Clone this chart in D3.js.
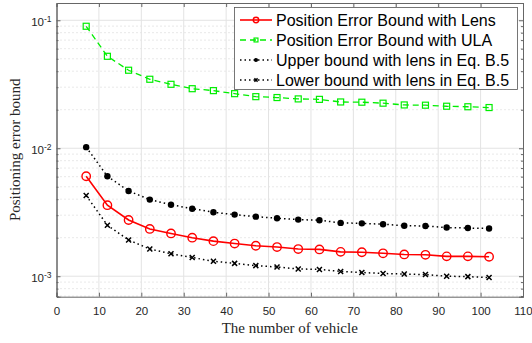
<!DOCTYPE html>
<html>
<head>
<meta charset="utf-8">
<script src="https://cdn.jsdelivr.net/npm/d3@7"></script>
<style>
  body { margin: 0; background: #fff; }
  svg { display: block; }
</style>
</head>
<body>
<svg id="chart" width="532" height="343"></svg>
<script>
var vehicles = [7, 12, 17, 22, 27, 32, 37, 42, 47, 52, 57, 62, 67, 72, 77, 82, 87, 92, 97, 102]
var lensBound = [0.00604, 0.00359, 0.00275, 0.00234, 0.00216, 0.00200, 0.00188, 0.00180, 0.00173, 0.00169,
    0.00163, 0.00162, 0.00155, 0.00154, 0.00151, 0.00148, 0.00147, 0.00143, 0.00143, 0.00142]
var ulaBound = [0.0898, 0.0523, 0.0407, 0.0346, 0.0316, 0.0292, 0.0282, 0.0267, 0.0253, 0.0249,
    0.0243, 0.0241, 0.0230, 0.0229, 0.0225, 0.0218, 0.0217, 0.0213, 0.0211, 0.0208]
var upperBound = [0.0102, 0.00604, 0.00464, 0.00397, 0.00362, 0.00337, 0.00316, 0.00303, 0.00292, 0.00284,
    0.00277, 0.00274, 0.00261, 0.00259, 0.00255, 0.00248, 0.00247, 0.00240, 0.00238, 0.00236]
var lowerBound = [0.00427, 0.00250, 0.00192, 0.00163, 0.00150, 0.00140, 0.00131, 0.00126, 0.00121, 0.00118,
    0.00114, 0.00113, 0.00109, 0.00107, 0.00105, 0.00104, 0.00103, 0.00100, 0.000993, 0.000976]
var xTicks = [0, 10, 20, 30, 40, 50, 60, 70, 80, 90, 100, 110]
var yDecades = [-3, -2, -1]
var seriesNames = ["Position Error Bound with Lens", "Position Error Bound with ULA",
    "Upper bound with lens in Eq. B.5", "Lower bound with lens in Eq. B.5"]

var svg = d3.select("#chart")
var plot = { left: 56.5, right: 523, top: 3, bottom: 296.7 }

var xScale = d3.scaleLinear().domain([0, 110]).range([plot.left, plot.right])
var yScale = d3.scaleLog().domain([Math.pow(10, -3.16), Math.pow(10, -0.865)]).range([plot.bottom, plot.top])

svg.append("rect")
    .attr("x", plot.left).attr("y", plot.top)
    .attr("width", plot.right - plot.left).attr("height", plot.bottom - plot.top)
    .attr("fill", "#fff")

// minor y grid (dotted)
var minorVals = []
yDecades.concat([-4]).forEach(function (e) {
    for (var k = 2; k <= 9; k++) {
        var v = k * Math.pow(10, e)
        if (v > yScale.domain()[0] && v < yScale.domain()[1]) minorVals.push(v)
    }
})
svg.append("g").selectAll("line").data(minorVals).enter().append("line")
    .attr("x1", plot.left).attr("x2", plot.right)
    .attr("y1", d => yScale(d)).attr("y2", d => yScale(d))
    .attr("stroke", "#c8c8c8").attr("stroke-width", 0.8).attr("stroke-dasharray", "1,3")

// major grids
svg.append("g").selectAll("line").data(xTicks.slice(1, -1)).enter().append("line")
    .attr("x1", d => xScale(d)).attr("x2", d => xScale(d))
    .attr("y1", plot.top).attr("y2", plot.bottom)
    .attr("stroke", "#e3e3e3").attr("stroke-width", 1)
svg.append("g").selectAll("line").data(yDecades).enter().append("line")
    .attr("x1", plot.left).attr("x2", plot.right)
    .attr("y1", d => yScale(Math.pow(10, d))).attr("y2", d => yScale(Math.pow(10, d)))
    .attr("stroke", "#e3e3e3").attr("stroke-width", 1)

// axes
var xAxis = d3.axisBottom(xScale).tickValues(xTicks).tickSize(-4).tickPadding(10)
var gx = svg.append("g").attr("transform", `translate(0,${plot.bottom})`).call(xAxis)
var gxTop = svg.append("g").attr("transform", `translate(0,${plot.top})`)
    .call(d3.axisTop(xScale).tickValues(xTicks).tickSize(-4).tickFormat(""))

var yAxis = d3.axisLeft(yScale).tickValues(yDecades.map(e => Math.pow(10, e))).tickSize(-4).tickPadding(6).tickFormat("")
var gy = svg.append("g").attr("transform", `translate(${plot.left},0)`).call(yAxis)
var gyMinor = svg.append("g").attr("transform", `translate(${plot.left},0)`)
    .call(d3.axisLeft(yScale).tickValues(minorVals).tickSize(-2).tickFormat(""))
var gyR = svg.append("g").attr("transform", `translate(${plot.right},0)`)
    .call(d3.axisRight(yScale).tickValues(yDecades.map(e => Math.pow(10, e))).tickSize(-4).tickFormat(""))
var gyRMinor = svg.append("g").attr("transform", `translate(${plot.right},0)`)
    .call(d3.axisRight(yScale).tickValues(minorVals).tickSize(-2).tickFormat(""))

;[gx, gxTop, gy, gyMinor, gyR, gyRMinor].forEach(function (g) {
    g.selectAll(".domain").attr("stroke", "#666").attr("stroke-width", 1)
    g.selectAll(".tick line").attr("stroke", "#666")
    g.selectAll("text").attr("fill", "#262626").style("font-family", "'Liberation Sans', Arial, sans-serif").style("font-size", "11.5px")
})

// y tick labels with superscript
gy.selectAll(".tick").each(function (d) {
    var t = d3.select(this).append("text")
        .attr("x", -5).attr("dy", "0.45em")
        .attr("text-anchor", "end")
        .attr("fill", "#262626")
        .style("font-family", "'Liberation Sans', Arial, sans-serif")
        .style("font-size", "11.5px")
    t.append("tspan").text("10")
    t.append("tspan").attr("dy", "-0.45em").style("font-size", "8.5px").text(Math.round(Math.log10(d)))
})

// axis titles
svg.append("text")
    .attr("x", xScale(55)).attr("y", 333)
    .attr("text-anchor", "middle")
    .style("font-family", "'Liberation Serif', 'Times New Roman', serif")
    .style("font-size", "15px").attr("fill", "#262626")
    .text("The number of vehicle")
svg.append("text")
    .attr("transform", `translate(20,${(plot.top + plot.bottom) / 2}) rotate(-90)`)
    .attr("text-anchor", "middle")
    .style("font-family", "'Liberation Serif', 'Times New Roman', serif")
    .style("font-size", "15px").attr("fill", "#262626")
    .text("Positioning error bound")

// series
var series = [
    { name: seriesNames[0], values: lensBound, color: "#ff0000", dash: null, width: 1.6, marker: "circle" },
    { name: seriesNames[1], values: ulaBound, color: "#00ee00", dash: "6,4", width: 1.3, marker: "square" },
    { name: seriesNames[2], values: upperBound, color: "#000", dash: "1.5,3", width: 1.5, marker: "dot" },
    { name: seriesNames[3], values: lowerBound, color: "#000", dash: "1.5,3", width: 1.5, marker: "cross" }
]

var line = d3.line().x(d => xScale(d[0])).y(d => yScale(d[1]))

function drawMarker(g, type, x, y, color, s) {
    s = s || 1
    if (type === "circle") {
        g.append("circle").attr("cx", x).attr("cy", y).attr("r", 4.2 * s)
            .attr("fill", "none").attr("stroke", color).attr("stroke-width", 1.4)
    } else if (type === "square") {
        g.append("rect").attr("x", x - 3 * s).attr("y", y - 3 * s).attr("width", 6 * s).attr("height", 6 * s)
            .attr("fill", "none").attr("stroke", color).attr("stroke-width", 1.2)
    } else if (type === "dot") {
        g.append("circle").attr("cx", x).attr("cy", y).attr("r", 3.2 * s).attr("fill", color)
    } else {
        var h = 2.5 * s
        g.append("path").attr("d", `M${x - h},${y - h}L${x + h},${y + h}M${x - h},${y + h}L${x + h},${y - h}`)
            .attr("stroke", color).attr("stroke-width", 1.5)
    }
}

series.forEach(function (s) {
    var pts = vehicles.map((v, i) => [v, s.values[i]])
    var g = svg.append("g")
    g.append("path").datum(pts).attr("d", line)
        .attr("fill", "none").attr("stroke", s.color).attr("stroke-width", s.width)
        .attr("stroke-dasharray", s.dash)
    pts.forEach(p => drawMarker(g, s.marker, xScale(p[0]), yScale(p[1]), s.color))
})

// legend
var lg = svg.append("g")
lg.append("rect").attr("x", 234.5).attr("y", 7.5).attr("width", 283).attr("height", 82)
    .attr("fill", "#fff").attr("stroke", "#555").attr("stroke-width", 0.8)
series.forEach(function (s, i) {
    var y = 20 + i * 20
    lg.append("line").attr("x1", 240).attr("x2", 272).attr("y1", y).attr("y2", y)
        .attr("stroke", s.color).attr("stroke-width", s.width).attr("stroke-dasharray", s.dash)
    drawMarker(lg, s.marker, 256, y, s.color, 0.65)
    lg.append("text").attr("x", 276).attr("y", y).attr("dy", "0.36em")
        .style("font-family", "'Liberation Sans', Arial, sans-serif")
        .style("font-size", "16px").attr("fill", "#000")
        .text(s.name)
})
</script>
</body>
</html>
